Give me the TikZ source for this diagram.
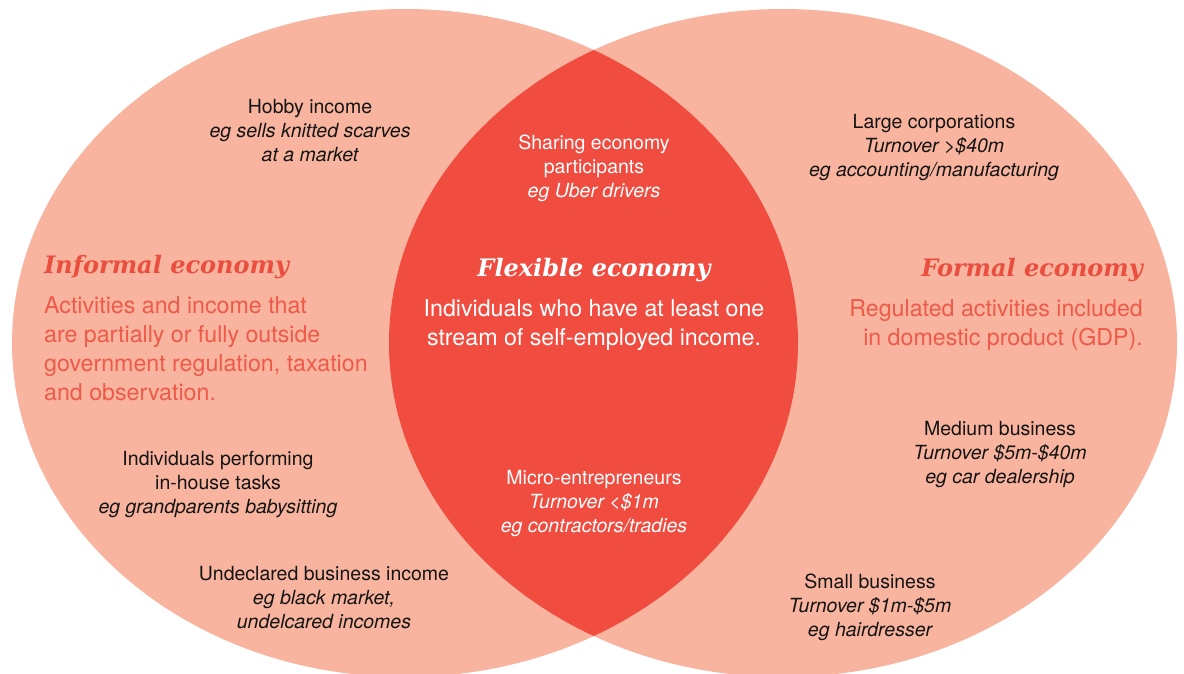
\documentclass[tikz,border=0pt]{standalone}
\usepackage{fontspec}
\setmainfont{TeX Gyre Heros}
\newfontfamily\headfont{DejaVu Serif}
\definecolor{vennpink}{RGB}{248,180,158}
\definecolor{vennred}{RGB}{240,76,64}
\definecolor{headred}{RGB}{233,78,62}
\definecolor{bodyred}{RGB}{237,90,74}
\definecolor{itemblack}{RGB}{20,20,20}
\begin{document}
\begin{tikzpicture}[x=1pt,y={(0pt,-1pt)},
  item/.style={align=center, inner sep=0pt, text=itemblack,
    font=\fontsize{19.5}{24}\selectfont},
  lensitem/.style={item, text=white},
  heading/.style={inner sep=0pt, font=\headfont\bfseries\itshape\fontsize{24}{28}\selectfont},
  blurb/.style={inner sep=0pt, font=\fontsize{23.2}{29}\selectfont}]
\useasboundingbox (0,0) rectangle (1184,673);

% the two economies and their overlap
\fill[vennpink] (405,343) ellipse [x radius=393pt, y radius=334pt];
\fill[vennpink] (783,343) ellipse [x radius=394pt, y radius=334pt];
\begin{scope}
  \clip (405,343) ellipse [x radius=393pt, y radius=334pt];
  \fill[vennred] (783,343) ellipse [x radius=394pt, y radius=334pt];
\end{scope}

% informal economy
\node[heading, text=headred, anchor=base west] (informal) at (44,273) {Informal economy};
\node[blurb, text=bodyred, align=left, anchor=north west] (informaltext) at (44,296)
  {Activities and income that\\are partially or fully outside\\government regulation, taxation\\and observation.};
\node[item] (hobby) at (310,131) {Hobby income\\{\itshape eg sells knitted scarves}\\{\itshape at a market}};
\node[item] (inhouse) at (218,484) {Individuals performing\\in-house tasks\\{\itshape eg grandparents babysitting}};
\node[item] (undeclared) at (324,598) {Undeclared business income\\{\itshape eg black market,}\\{\itshape undelcared incomes}};

% flexible economy
\node[heading, text=white, anchor=base] (flexible) at (594,276) {Flexible economy};
\node[blurb, text=white, align=center, anchor=north] (flexibletext) at (594,299)
  {Individuals who have at least one\\stream of self-employed income.};
\node[lensitem] (sharing) at (594,168) {Sharing economy\\participants\\{\itshape eg Uber drivers}};
\node[lensitem] (micro) at (594,504) {Micro-entrepreneurs\\{\itshape Turnover <\$1m}\\{\itshape eg contractors/tradies}};

% formal economy
\node[heading, text=headred, anchor=base east] (formal) at (1143,276) {Formal economy};
\node[blurb, text=bodyred, align=right, anchor=north east] (formaltext) at (1143,299)
  {Regulated activities included\\in domestic product (GDP).};
\node[item] (large) at (934,148) {Large corporations\\{\itshape Turnover >\$40m}\\{\itshape eg accounting/manufacturing}};
\node[item] (medium) at (1000,455) {Medium business\\{\itshape Turnover \$5m-\$40m}\\{\itshape eg car dealership}};
\node[item] (small) at (870,607) {Small business\\{\itshape Turnover \$1m-\$5m}\\{\itshape eg hairdresser}};
\end{tikzpicture}
\end{document}
